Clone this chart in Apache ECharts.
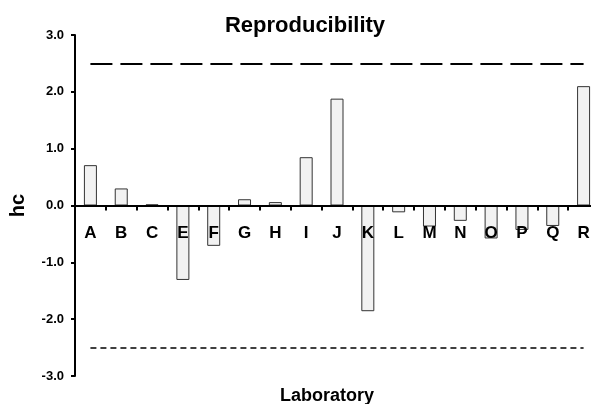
<!DOCTYPE html>
<html>
<head>
<meta charset="utf-8">
<script src="https://cdn.jsdelivr.net/npm/echarts@6/dist/echarts.min.js"></script>
<style>html,body{margin:0;padding:0;background:#fff;}#c{width:591px;height:404px;}</style>
</head>
<body>
<div id="c"></div>
<script>
const labs = ['A','B','C','E','F','G','H','I','J','K','L','M','N','O','P','Q','R'];
const hcValues = [0.71, 0.30, 0.02, -1.31, -0.71, 0.11, 0.06, 0.85, 1.88, -1.86, -0.12, -0.37, -0.27, -0.58, -0.43, -0.36, 2.10];
const upperLimit = 2.5;
const lowerLimit = -2.5;
const yTicks = [-3, -2, -1, 0, 1, 2, 3];

const font = 'Liberation Sans, Arial, sans-serif';
const gridTop = 35, gridBottom = 28, H = 404;
const plotH = H - gridTop - gridBottom;
const yMin = yTicks[0], yMax = yTicks[yTicks.length - 1];
// move the category axis (line, ticks, labels) up to value 0
const zeroOffset = -plotH * (0 - yMin) / (yMax - yMin);

const chart = echarts.init(document.getElementById('c'), null, {renderer: 'canvas'});
chart.setOption({
  animation: false,
  backgroundColor: '#fff',
  title: [{
    text: 'Reproducibility',
    left: 300, top: 10, textAlign: 'center',
    textStyle: {fontFamily: font, fontWeight: 'bold', fontSize: 22, color: '#000'}
  }, {
    text: 'Laboratory',
    left: 322, top: 382, textAlign: 'center',
    textStyle: {fontFamily: font, fontWeight: 'bold', fontSize: 18, color: '#000'}
  }],
  grid: {left: 75, right: -8, top: gridTop, bottom: gridBottom, containLabel: false, outerBoundsMode: 'none'},
  xAxis: {
    type: 'category',
    data: labs,
    position: 'bottom',
    offset: zeroOffset,
    z: 10,
    axisLine: {onZero: false, lineStyle: {color: '#000', width: 2}},
    axisTick: {show: true, length: 5, lineStyle: {color: '#000', width: 2}},
    axisLabel: {fontFamily: font, fontWeight: 'bold', fontSize: 17, color: '#000', margin: 19},
    splitLine: {show: false}
  },
  yAxis: {
    type: 'value',
    min: yMin, max: yMax, interval: 1,
    name: 'hc',
    nameLocation: 'middle',
    nameGap: 47,
    z: 10,
    nameTextStyle: {fontFamily: font, fontWeight: 'bold', fontSize: 20, color: '#000'},
    axisLine: {show: true, lineStyle: {color: '#000', width: 2}},
    axisTick: {show: true, length: 4, lineStyle: {color: '#000', width: 2}},
    axisLabel: {fontFamily: font, fontWeight: 'bold', fontSize: 13, color: '#000', margin: 11,
      formatter: v => v.toFixed(1)},
    splitLine: {show: false}
  },
  series: [{
    type: 'bar',
    data: hcValues,
    barWidth: 13,
    itemStyle: {color: '#f2f2f2', borderColor: '#333', borderWidth: 1},
    markLine: {
      silent: true,
      symbol: 'none',
      label: {show: false},
      data: [
        [{coord: [labs[0], upperLimit], lineStyle: {type: [22, 8], width: 2, color: '#000'}},
         {coord: [labs[labs.length - 1], upperLimit]}],
        [{coord: [labs[0], lowerLimit], lineStyle: {type: [6, 4], width: 1.5, color: '#000'}},
         {coord: [labs[labs.length - 1], lowerLimit]}]
      ]
    }
  }]
});
</script>
</body>
</html>
